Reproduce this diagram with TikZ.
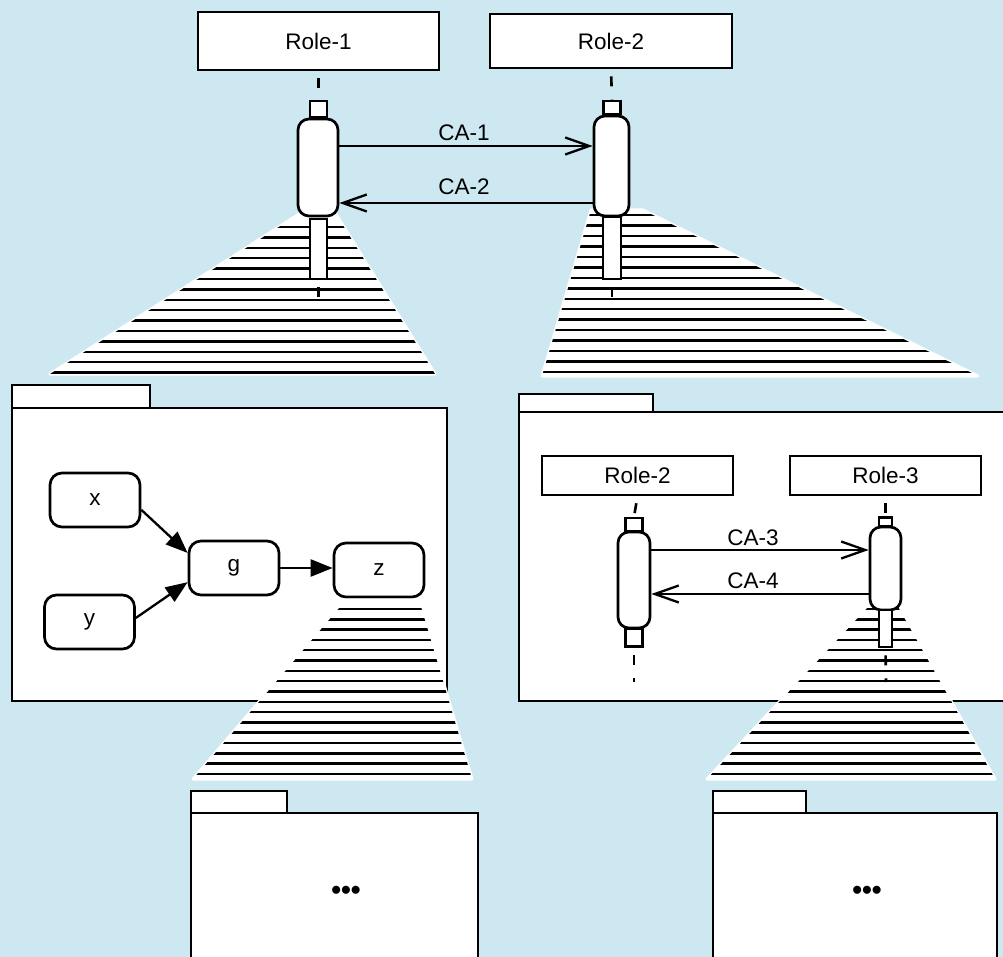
\documentclass[tikz,border=0pt]{standalone}
\usepackage{fontspec}
\setmainfont{Liberation Sans}
\usetikzlibrary{arrows.meta}
\definecolor{bgblue}{RGB}{205,232,240}
\newcommand{\hatchzone}[4]{%
  \fill[white] #1 -- cycle;
  \draw[white, line width=3pt, line join=round] #1 -- cycle;
  \begin{scope}
    \clip #1 -- cycle;
    \foreach \k in {0,...,#3}
      \draw[line width=2.5pt] (0,{#2+#4*\k}) -- (1003,{#2+#4*\k});
  \end{scope}}
\begin{document}
\begin{tikzpicture}[x=1pt,y=-1pt,
  every node/.style={font=\fontsize{22.5}{26}\selectfont, inner sep=0pt},
  frame/.style={draw, line width=2.7pt, fill=white},
  rolebox/.style={frame},
  act/.style={frame, rounded corners=11pt},
  stub/.style={frame},
  gnode/.style={frame, rounded corners=12pt, minimum width=90, minimum height=54},
  life/.style={line width=2.6pt, dash pattern=on 0pt off 7pt on 10pt off 6pt},
  msg/.style={line width=2.3pt, -{Straight Barb[length=24pt,width=17pt,line width=2.3pt]}},
  flow/.style={line width=2.3pt, -{Triangle[length=22pt,width=17pt]}},
  pkg/.style={draw, line width=2.7pt, fill=white},
  dots/.style={font=\fontsize{28}{30}\selectfont\bfseries},
]
\useasboundingbox (0,0) rectangle (1003,957);
\clip (0,0) rectangle (1003,957);
\fill[bgblue] (0,0) rectangle (1003,957);

% ---------- top level sequence ----------
\node[rolebox, minimum width=241, minimum height=58] (role1) at (318.5,41) {Role-1};
\node[rolebox, minimum width=242, minimum height=54] (role2) at (611,41) {Role-2};
\node[stub, minimum width=17, minimum height=16] (r1top) at (318.5,109) {};
\node[stub, minimum width=17, minimum height=13] (r2top) at (612,107.5) {};
\draw[life] (role1.south) -- (r1top.north);
\draw[life] (role2.south) -- (r2top.north);
\coordinate (r1end) at (318.5,305);
\coordinate (r2end) at (612,305);

\hatchzone{(299,214) -- (336,214) -- (435,374) -- (50,374)}{227}{14}{10.4}
\hatchzone{(591,210) -- (643,210) -- (978,376) -- (542,376)}{215}{15}{10.47}

\node[act, minimum width=40, minimum height=97] (act1) at (318,167.5) {};
\node[act, minimum width=35, minimum height=100] (act2) at (611.5,166) {};
\node[stub, minimum width=17, minimum height=60] (r1bot) at (318.5,249) {};
\node[stub, minimum width=18, minimum height=62] (r2bot) at (612,248) {};
\draw[life] (r1bot.south) -- (r1end);
\draw[life] (r2bot.south) -- (r2end);

\draw[msg] (act1.east |- 0,146) -- (act2.west |- 0,146);
\draw[msg] (act2.west |- 0,203) -- (act1.east |- 0,203);
\node (ca1) at (464,133) {CA-1};
\node (ca2) at (464,187) {CA-2};

% ---------- left package ----------
\draw[pkg] (12,385) rectangle (150,408);
\draw[pkg] (12,408) rectangle (447,701);
\node[gnode] (x) at (95,500) {x};
\node[gnode] (y) at (89.5,622) {y};
\node[gnode] (g) at (234,568) {g};
\node[gnode] (z) at (379,570) {z};
\draw[flow] (x.-12) -- (g.162);
\draw[flow] (y.5) -- (g.197);
\draw[flow] (g.east) -- (z.west |- g.east);

\hatchzone{(346,600) -- (419,600) -- (472,779) -- (193,779)}{609}{16}{10.31}

% ---------- right package ----------
\draw[pkg] (519,394) rectangle (653,412);
\draw[pkg] (519,412) rectangle (1012,701);
\node[rolebox, minimum width=191, minimum height=39] (irole2) at (637.5,475.5) {Role-2};
\node[rolebox, minimum width=191, minimum height=39] (irole3) at (885.5,475.5) {Role-3};
\node[stub, minimum width=17, minimum height=13] (i2top) at (634,524.5) {};
\node[stub, minimum width=13, minimum height=9] (i3top) at (885.5,522) {};
\draw[life] (irole2.south) -- (i2top.north);
\draw[life] (irole3.south) -- (i3top.north);
\node[act, minimum width=32, minimum height=96] (iact2) at (634,580) {};
\node[stub, minimum width=17, minimum height=18] (i2bot) at (634,637.5) {};
\coordinate (i2end) at (634,682);
\coordinate (i3end) at (886,682);
\draw[life] (i2bot.south) -- (i2end);

\hatchzone{(870,605) -- (897,605) -- (995,779) -- (707,779)}{609}{16}{10.31}

\node[act, minimum width=31, minimum height=83] (iact3) at (885.5,568.5) {};
\node[stub, minimum width=13, minimum height=37] (i3bot) at (885.5,628.5) {};
\draw[life] (i3bot.south) -- (i3end);

\draw[msg] (iact2.east |- 0,550) -- (iact3.west |- 0,550);
\draw[msg] (iact3.west |- 0,594) -- (iact2.east |- 0,594);
\node (ca3) at (753,538) {CA-3};
\node (ca4) at (753,581) {CA-4};

% ---------- bottom packages ----------
\draw[pkg] (191,791) rectangle (287,813);
\draw[pkg] (191,813) rectangle (478,975);
\node[dots] (dotsl) at (346,893) {•••};
\draw[pkg] (713,791) rectangle (806,813);
\draw[pkg] (713,813) rectangle (997,975);
\node[dots] (dotsr) at (867,893) {•••};
\end{tikzpicture}
\end{document}
